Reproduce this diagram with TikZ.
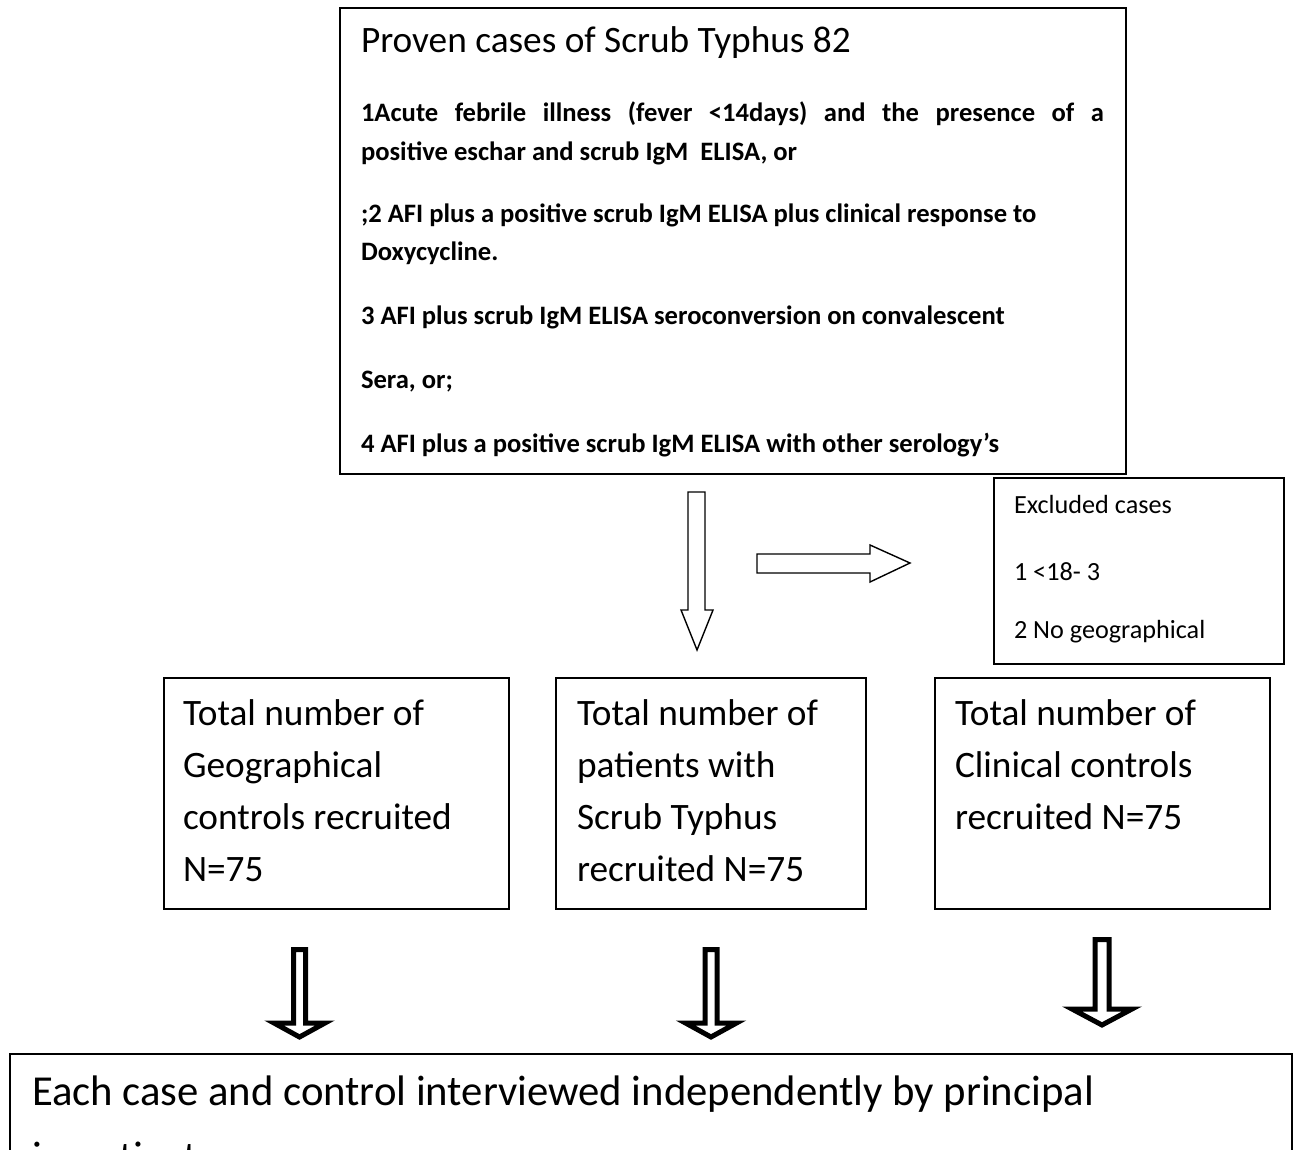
\documentclass[tikz,border=0pt]{standalone}
\usepackage{fontspec}
\setmainfont{Carlito}
\begin{document}
\begin{tikzpicture}[x=1pt,y=-1pt,
  box/.style={draw=black, line width=1.6pt, rectangle, inner sep=0pt, anchor=north west},
  txt/.style={anchor=base west, inner sep=0pt, outer sep=0pt},
  big/.style={font=\fontsize{37.3}{44}\selectfont},
  bld/.style={font=\fontsize{26.6}{32}\selectfont\bfseries},
  sml/.style={font=\fontsize{26.2}{31}\selectfont},
  fin/.style={font=\fontsize{42.7}{50}\selectfont},
  hollow/.style={draw=black, line width=1.4pt, fill=white, line join=miter},
  thick arrow/.style={draw=black, line width=5pt, fill=white, line join=miter}]
\useasboundingbox (0,0) rectangle (1296,1150);
\clip (0,0) rectangle (1296,1150);

% top box
\node[box, minimum width=786, minimum height=466] (top) at (339,7) {};
\node[txt, big] (t0) at (361,53) {Proven cases of Scrub Typhus 82};
\node[txt, bld] (t1) at (361,122) {\makebox[743pt][s]{1Acute febrile illness (fever <14days) and the presence of a}};
\node[txt, bld] (t2) at (361,161) {positive eschar and scrub IgM\ \ ELISA, or};
\node[txt, bld] (t3) at (361,223) {;2 AFI plus a positive scrub IgM ELISA plus clinical response to};
\node[txt, bld] (t4) at (361,261) {Doxycycline.};
\node[txt, bld] (t5) at (361,324) {3 AFI plus scrub IgM ELISA seroconversion on convalescent};
\node[txt, bld] (t6) at (361,388) {Sera, or;};
\node[txt, bld] (t7) at (361,452) {4 AFI plus a positive scrub IgM ELISA with other serology’s};

% excluded box
\node[box, minimum width=290, minimum height=186] (excl) at (993,477) {};
\node[txt, sml] (e1) at (1014,513) {Excluded cases};
\node[txt, sml] (e2) at (1014,580) {1 <18- 3};
\node[txt, sml] (e3) at (1014,638) {2 No geographical};

% hollow arrows
\draw[hollow] (688,492) -- (705,492) -- (705,610) -- (713,610) -- (697,650)
  -- (681,610) -- (688,610) -- cycle;
\draw[hollow] (757,554) -- (870,554) -- (870,545) -- (910,563) -- (870,582)
  -- (870,573) -- (757,573) -- cycle;

% three boxes
\node[box, minimum width=345, minimum height=231] (geo) at (163,677) {};
\node[txt, big] (g1) at (183,725) {Total number of};
\node[txt, big] (g2) at (183,777) {Geographical};
\node[txt, big] (g3) at (183,829) {controls recruited};
\node[txt, big] (g4) at (183,881) {N=75};

\node[box, minimum width=310, minimum height=231] (cases) at (555,677) {};
\node[txt, big] (c1) at (577,725) {Total number of};
\node[txt, big] (c2) at (577,777) {patients with};
\node[txt, big] (c3) at (577,829) {Scrub Typhus};
\node[txt, big] (c4) at (577,881) {recruited N=75};

\node[box, minimum width=335, minimum height=231] (clin) at (934,677) {};
\node[txt, big] (k1) at (955,725) {Total number of};
\node[txt, big] (k2) at (955,777) {Clinical controls};
\node[txt, big] (k3) at (955,829) {recruited N=75};

% thick arrows
\draw[thick arrow] (293.5,949.5) -- (305.5,949.5) -- (305.5,1023) -- (325,1023)
  -- (299.5,1037) -- (274,1023) -- (293.5,1023) -- cycle;
\draw[thick arrow] (705,949.5) -- (717,949.5) -- (717,1023) -- (736.5,1023)
  -- (711,1037) -- (685.5,1023) -- (705,1023) -- cycle;
\draw[thick arrow] (1095,939.5) -- (1109,939.5) -- (1109,1009) -- (1132,1009)
  -- (1102,1025) -- (1072,1009) -- (1095,1009) -- cycle;

% final box
\node[box, minimum width=1282, minimum height=160] (final) at (9,1053) {};
\node[txt, fin] (f1) at (32,1105) {Each case and control interviewed independently by principal};
\node[txt, fin] (f2) at (32,1171) {investigator};
\end{tikzpicture}
\end{document}
